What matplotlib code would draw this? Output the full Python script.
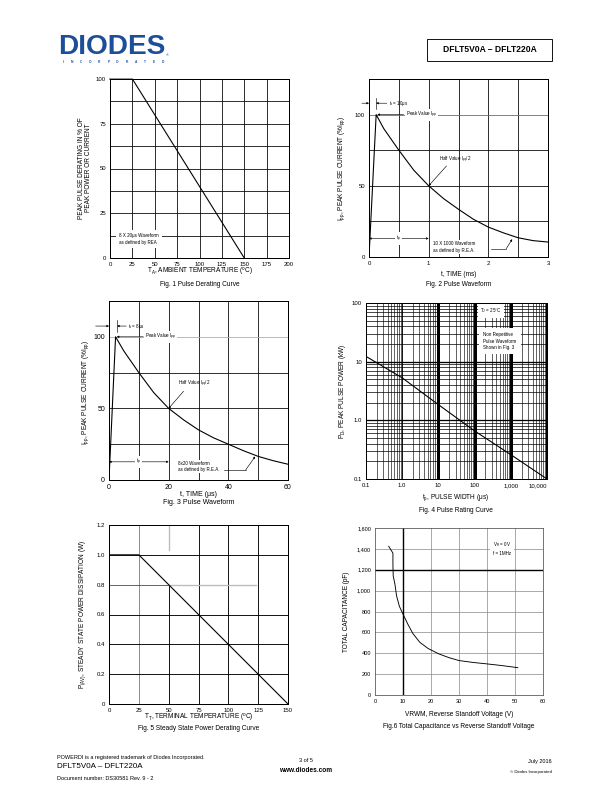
import numpy as np
import matplotlib.pyplot as plt
from matplotlib.patches import Rectangle

plt.rcParams['font.family'] = ['Liberation Sans', 'DejaVu Sans']
plt.rcParams['mathtext.fontset'] = 'custom'
plt.rcParams['mathtext.rm'] = 'Liberation Sans'
plt.rcParams['mathtext.it'] = 'Liberation Sans:italic'

# ---- data ----
# Fig 1 pulse derating
derate_temp = [0, 25, 150]
derate_pct = [100, 100, 0]
# Fig 2 10x1000 waveform (ms, % Ipp)
t_ms = [0, 0.12, 0.25, 0.5, 0.75, 1.0, 1.25, 1.5, 1.75, 2.0, 2.25, 2.5, 2.75, 3.0]
ipp_ms = [0, 100, 90, 75, 61, 50, 41, 33.5, 26.5, 21, 17, 13.5, 11.5, 10.5]
# Fig 3 8x20 waveform (us, % Ipp)
t_us = [0, 2.2, 5, 10, 15, 20, 25, 30, 35, 40, 45, 50, 55, 60]
ipp_us = [0, 100, 90, 75, 61, 50, 42, 35, 29.5, 25, 20.5, 16.5, 13.5, 11]
# Fig 4 pulse rating
tp_us = [0.1, 1, 10, 100, 1000, 10000]
ppk_kw = [12.3, 5.3, 1.85, 0.66, 0.26, 0.1]
# Fig 5 steady state derating
term_temp = [0, 25, 150]
pav_w = [1.0, 1.0, 0]
# Fig 6 capacitance
vrwm = [4.9, 5.8, 6.4, 6.4, 6.5, 7.1, 7.7, 8.7, 10, 11.7, 13.5, 16, 19, 22.7, 26.4, 30, 35, 40, 45, 51]
cap_pf = [1425, 1385, 1360, 1250, 1140, 1065, 950, 850, 775, 680, 590, 505, 445, 395, 358, 330, 312, 298, 283, 262]

W, H = 612, 792
fig = plt.figure(figsize=(W / 72, H / 72), dpi=72)


def box(l, t, r, b):
    return fig.add_axes([l / W, 1 - b / H, (r - l) / W, (b - t) / H])


def ftext(x, y, s, **kw):
    kw.setdefault('va', 'center')
    return fig.text(x / W, 1 - y / H, s, **kw)


def style(ax, lab=6):
    ax.tick_params(length=0, labelsize=lab, pad=4)
    for sp in ax.spines.values():
        sp.set_linewidth(1.0)
    ax.set_axisbelow(True)


small = 4.5
arw = dict(arrowstyle='-|>', lw=0.6, color='k', mutation_scale=4, shrinkA=0, shrinkB=0)
wbox = dict(fc='white', ec='none', pad=1.0)

# ---- header ----
ftext(58, 47, 'DIODES', fontsize=28, fontweight='bold', color='#1d4e9a')
ftext(166, 55, '®', fontsize=4, color='#1d4e9a')
for i, ch in enumerate('INCORPORATED'):
    ftext(63 + i * 9.1, 62, ch, fontsize=3.3, color='#1d4e9a', ha='center', fontweight='bold')
fig.patches.append(Rectangle((427 / W, 1 - 61 / H), 125 / W, 22 / H, transform=fig.transFigure,
                             fill=False, lw=0.9, ec='black'))
ftext(489.5, 50, 'DFLT5V0A – DFLT220A', fontsize=8.5, fontweight='bold', ha='center')

# ---- Fig 1 ----
ax1 = box(110, 79, 289, 258)
ax1.set_xlim(0, 200)
ax1.set_ylim(0, 100)
ax1.set_xticks(range(0, 201, 25))
ax1.set_yticks([0, 25, 50, 75, 100])
ax1.set_yticks(np.arange(12.5, 100, 25), minor=True)
ax1.tick_params(which='minor', length=0)
ax1.grid(which='both', color='black', lw=0.8)
style(ax1)
ax1.plot(derate_temp[:2], derate_pct[:2], color='#999999', lw=2, clip_on=False)
ax1.plot(derate_temp[1:], derate_pct[1:], color='black', lw=1.1)
ax1.text(10, 10.7, '8 X 20μs Waveform\nas defined by REA', fontsize=small, va='center',
         linespacing=1.5, bbox=dict(fc='white', ec='none', pad=3))
ftext(85, 168, 'PEAK PULSE DERATING IN % OF\nPEAK POWER OR CURRENT', fontsize=6.5,
      rotation=90, ha='center', linespacing=1.1)
ftext(199.5, 272, 'T$_\\mathregular{A}$, AMBIENT TEMPERATURE ($^\\mathregular{o}$C)', fontsize=6.5, ha='center')
ftext(199.5, 284, 'Fig. 1 Pulse Derating Curve', fontsize=6.5, ha='center')

# ---- Fig 2 ----
ax2 = box(369, 79, 548, 257)
ax2.set_xlim(0, 3)
ax2.set_ylim(0, 125)
ax2.set_xticks([0, 1, 2, 3])
ax2.set_xticks([0.5, 1.5, 2.5], minor=True)
ax2.set_yticks([0, 50, 100])
ax2.set_yticks([25, 75], minor=True)
ax2.tick_params(which='minor', length=0)
ax2.grid(which='both', color='black', lw=0.8)
style(ax2)
ax2.get_ygridlines()[2].set_color('#666666')
ax2.plot(t_ms, ipp_ms, color='black', lw=1.1)
pk = t_ms[1]
ax2.annotate('', xy=(0, 108), xytext=(-0.12, 108), arrowprops=arw, annotation_clip=False)
ax2.plot([pk, pk], [104, 112], color='black', lw=0.6)
ax2.annotate('', xy=(pk, 108), xytext=(0.3, 108), arrowprops=arw)
ax2.text(0.33, 108, 't$_\\mathregular{r}$ = 10μs', fontsize=small, va='center')
ax2.text(0.62, 100, 'Peak Value I$_\\mathregular{pp}$', fontsize=small, va='center', bbox=wbox)
ax2.annotate('', xy=(pk + 0.02, 100), xytext=(0.58, 100), arrowprops=arw)
ax2.text(1.18, 68, 'Half Value I$_\\mathregular{pp}$/2', fontsize=small, va='center')
ax2.annotate('', xy=(1.0, 50), xytext=(1.3, 64), arrowprops=arw)
ax2.annotate('', xy=(0, 13), xytext=(1, 13),
             arrowprops=dict(arrowstyle='<|-|>', lw=0.6, color='k', mutation_scale=4, shrinkA=0, shrinkB=0))
ax2.text(0.5, 13, 't$_\\mathregular{p}$', fontsize=small, va='center', ha='center', bbox=wbox)
ax2.text(1.07, 7, '10 X 1000 Waveform\nas defined by R.E.A.', fontsize=small, va='center',
         linespacing=1.4, bbox=wbox)
ax2.plot([2.05, 2.3], [5.8, 5.8], color='black', lw=0.6)
ax2.annotate('', xy=(2.4, 12.5), xytext=(2.3, 5.8), arrowprops=arw)
ftext(342, 168, 'I$_\\mathregular{pp}$, PEAK PULSE CURRENT (%I$_\\mathregular{pp}$)', fontsize=6.5,
      rotation=90, ha='center')
ftext(458.5, 274, 't, TIME (ms)', fontsize=6.5, ha='center')
ftext(458.5, 285, 'Fig. 2 Pulse Waveform', fontsize=6.5, ha='center')

# ---- Fig 3 ----
ax3 = box(109, 301, 288, 480)
ax3.set_xlim(0, 60)
ax3.set_ylim(0, 125)
ax3.set_xticks([0, 20, 40, 60])
ax3.set_xticks([10, 30, 50], minor=True)
ax3.set_yticks([0, 50, 100])
ax3.set_yticks([25, 75], minor=True)
ax3.tick_params(which='minor', length=0)
ax3.grid(which='both', color='black', lw=0.8)
style(ax3, lab=7)
ax3.get_ygridlines()[2].set_color('#aaaaaa')
ax3.plot(t_us, ipp_us, color='black', lw=1.1)
pk3 = 2.7
ax3.annotate('', xy=(0, 107.5), xytext=(-4.5, 107.5), arrowprops=arw, annotation_clip=False)
ax3.plot([pk3, pk3], [103.5, 111.5], color='black', lw=0.6)
ax3.annotate('', xy=(pk3, 107.5), xytext=(5.8, 107.5), arrowprops=arw)
ax3.text(6.3, 107.5, 't$_\\mathregular{r}$ = 8μs', fontsize=small, va='center')
ax3.text(12, 100, 'Peak Value I$_\\mathregular{pp}$', fontsize=small, va='center', bbox=wbox)
ax3.annotate('', xy=(t_us[1] + 0.4, 100), xytext=(11.5, 100), arrowprops=arw)
ax3.text(23, 67, 'Half Value I$_\\mathregular{pp}$/2', fontsize=small, va='center')
ax3.annotate('', xy=(20, 50), xytext=(25, 62), arrowprops=arw)
ax3.annotate('', xy=(0, 12.7), xytext=(20, 12.7),
             arrowprops=dict(arrowstyle='<|-|>', lw=0.6, color='k', mutation_scale=4, shrinkA=0, shrinkB=0))
ax3.text(10, 12.7, 't$_\\mathregular{p}$', fontsize=small, va='center', ha='center', bbox=wbox)
ax3.text(23, 9.3, '8x20 Waveform\nas defined by R.E.A.', fontsize=small, va='center',
         linespacing=1.4, bbox=wbox)
ax3.plot([38.5, 45.8], [7, 7], color='black', lw=0.6)
ax3.annotate('', xy=(49, 16.4), xytext=(45.8, 7), arrowprops=arw)
ftext(86, 392, 'I$_\\mathregular{pp}$, PEAK PULSE CURRENT (%I$_\\mathregular{pp}$)', fontsize=6.5,
      rotation=90, ha='center')
ftext(198.5, 494, 't, TIME (μs)', fontsize=7, ha='center')
ftext(198.5, 503, 'Fig. 3 Pulse Waveform', fontsize=7, ha='center')

# ---- Fig 4 ----
ax4 = box(366, 303, 547, 479)
ax4.set_xscale('log')
ax4.set_yscale('log')
ax4.set_xlim(0.1, 10000)
ax4.set_ylim(0.1, 100)
ax4.minorticks_off()
ax4.set_xticks([0.1, 1, 10, 100, 1000, 10000])
ax4.set_xticklabels(['0.1', '1.0', '10', '100', '1,000', '10,000'])
ax4.set_yticks([0.1, 1, 10, 100])
ax4.set_yticklabels(['0.1', '1.0', '10', '100'])
style(ax4)
ax4.get_xticklabels()[-1].set_ha('right')
for dec in [0.1, 1, 10, 100, 1000]:
    for k in range(2, 10):
        ax4.axvline(k * dec, color='black', lw=0.6)
for dec in [0.1, 1, 10]:
    for k in range(2, 10):
        ax4.axhline(k * dec, color='black', lw=0.7)
ax4.axvline(1, color='black', lw=0.9)
for d in [10, 100, 1000, 10000]:
    ax4.axvline(d, color='black', lw=3)
for d in [1, 10]:
    ax4.axhline(d, color='black', lw=1.3)
ax4.plot(tp_us, ppk_kw, color='black', lw=1.1)
ax4.text(0.69, 0.955, 'T$_\\mathregular{J}$ = 25°C', fontsize=small, transform=ax4.transAxes,
         ha='center', va='center', bbox=dict(fc='white', ec='none', pad=2.5))
ax4.text(0.648, 0.784, 'Non Repetitive\nPulse Waveform\nShown in Fig. 3', fontsize=small,
         transform=ax4.transAxes, va='center', linespacing=1.3, bbox=dict(fc='white', ec='none', pad=4))
ftext(343, 391, 'P$_\\mathregular{D}$, PEAK PULSE POWER (kW)', fontsize=6.5, rotation=90, ha='center')
ftext(456, 498, 't$_\\mathregular{p}$, PULSE WIDTH (μs)', fontsize=6.5, ha='center')
ftext(456, 510, 'Fig. 4 Pulse Rating Curve', fontsize=6.5, ha='center')

# ---- Fig 5 ----
ax5 = box(109, 525, 288, 704)
ax5.set_xlim(0, 150)
ax5.set_ylim(0, 1.2)
ax5.set_xticks(range(0, 151, 25))
ax5.set_yticks([0, 0.2, 0.4, 0.6, 0.8, 1.0, 1.2])
ax5.set_yticklabels(['0', '0.2', '0.4', '0.6', '0.8', '1.0', '1.2'])
style(ax5)
for x in [75, 100, 125]:
    ax5.axvline(x, color='black', lw=0.9)
ax5.axvline(25, color='#444444', lw=0.6)
ax5.axvline(50, ymax=0.8 / 1.2, color='black', lw=0.9)
ax5.axvline(50, ymin=1.03 / 1.2, color='#bbbbbb', lw=1.3)
for y in [0.2, 0.4, 0.6, 1.0]:
    ax5.axhline(y, color='black', lw=0.9)
ax5.axhline(0.8, xmax=50 / 150, color='#444444', lw=0.8)
ax5.axhline(0.8, xmin=50 / 150, xmax=123 / 150, color='#bbbbbb', lw=1.3)
ax5.plot(term_temp, pav_w, color='black', lw=1.1)
ftext(83, 614.5, 'P$_\\mathregular{(AV)}$, STEADY STATE POWER DISSIPATION (W)', fontsize=6.5,
      rotation=90, ha='center')
ftext(198.5, 718, 'T$_\\mathregular{T}$, TERMINAL TEMPERATURE ($^\\mathregular{o}$C)', fontsize=6.5, ha='center')
ftext(198.5, 729, 'Fig. 5 Steady State Power Derating Curve', fontsize=6.5, ha='center')

# ---- Fig 6 ----
ax6 = box(375, 528, 543, 695)
ax6.set_xlim(0, 60)
ax6.set_ylim(0, 1600)
ax6.set_xticks(range(0, 61, 10))
ax6.set_yticks(range(0, 1601, 200))
ax6.set_yticklabels(['0', '200', '400', '600', '800', '1,000', '1,200', '1,400', '1,600'])
style(ax6, lab=5.5)
for sp in ax6.spines.values():
    sp.set_color('#555555')
    sp.set_linewidth(0.8)
for x in [20, 30, 40, 50]:
    ax6.axvline(x, color='#888888', lw=0.7)
for y in [200, 400, 600, 800, 1000, 1400]:
    ax6.axhline(y, color='#888888', lw=0.7)
ax6.axvline(10, color='black', lw=1.4)
ax6.axhline(1200, color='black', lw=1.4)
ax6.plot(vrwm, cap_pf, color='black', lw=0.9)
ax6.text(0.70, 0.88, 'V$_\\mathregular{R}$ = 0V\nf = 1MHz', fontsize=small, transform=ax6.transAxes,
         va='center', linespacing=1.3, bbox=dict(fc='white', ec='none', pad=3))
ftext(346, 611.5, 'TOTAL CAPACITANCE (pF)', fontsize=6.5, rotation=90, ha='center')
ftext(459, 715, 'VRWM, Reverse Standoff Voltage (V)', fontsize=6.5, ha='center')
ftext(459, 727, 'Fig.6 Total Capacitance vs Reverse Standoff Voltage', fontsize=6.5, ha='center')

# ---- footer ----
ftext(57, 757, 'POWERDI is a registered trademark of Diodes Incorporated.', fontsize=5.5)
ftext(57, 767, 'DFLT5V0A – DFLT220A', fontsize=8)
ftext(57, 778, 'Document number: DS30581 Rev. 9 - 2', fontsize=5.5)
ftext(306, 761, '3 of 5', fontsize=5.5, ha='center')
ftext(306, 771, 'www.diodes.com', fontsize=6.5, fontweight='bold', ha='center')
ftext(552, 761, 'July 2016', fontsize=5.5, ha='right')
ftext(552, 772, '© Diodes Incorporated', fontsize=4.3, ha='right')

fig.savefig('out.png', dpi=72)
